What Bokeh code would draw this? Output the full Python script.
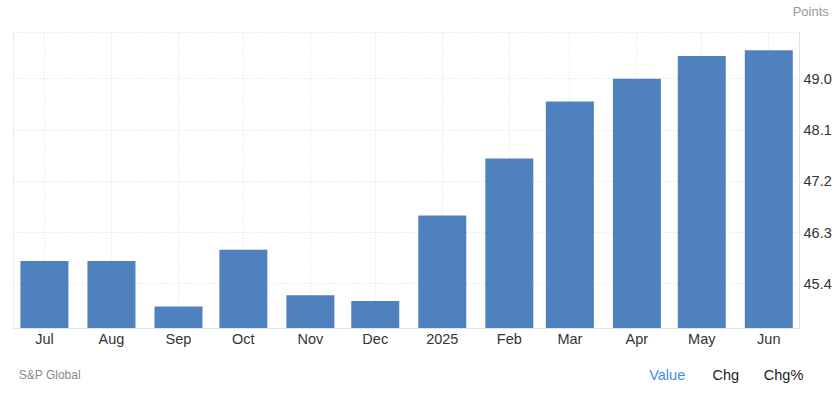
import pandas as pd
from bokeh.plotting import figure
from bokeh.layouts import column, row
from bokeh.models import (Range1d, MonthsTicker, FixedTicker, PrintfTickFormatter,
                          CustomJSTickFormatter, Span, ColumnDataSource)
from bokeh.core.properties import value
from bokeh.embed import file_html
from bokeh.resources import INLINE

# ---- data ----
months = ["2024-07-01", "2024-08-01", "2024-09-01", "2024-10-01", "2024-11-01", "2024-12-01",
          "2025-01-01", "2025-02-01", "2025-03-01", "2025-04-01", "2025-05-01", "2025-06-01"]
values = [45.8, 45.8, 45.0, 46.0, 45.2, 45.1, 46.6, 47.6, 48.6, 49.0, 49.4, 49.5]
y_ticks = [45.4, 46.3, 47.2, 48.1, 49.0]
month_names = ["Jan", "Feb", "Mar", "Apr", "May", "Jun", "Jul", "Aug", "Sep", "Oct", "Nov", "Dec"]
unit_label = "Points"
source_label = "S&P Global"
tab_labels = ["Value", "Chg", "Chg%"]

DAY = 86400000.0
dates = pd.to_datetime(months)
ms = [d.value / 1e6 for d in dates]
src = ColumnDataSource(dict(x=ms, top=values))

FONT = "Liberation Sans"
GRID = "#dcdcdc"
AXIS = "#e3e3e3"

W = 840
TOP_H = 26
MAIN_H = 350 - TOP_H
BOT_H = 393 - 350
FRAME_L, FRAME_R = 13, 799
FRAME_T, FRAME_B = 32, 328


def strip_fig(h, y0, y1):
    s = figure(width=W, height=h, x_range=Range1d(0, W), y_range=Range1d(y1, y0),
               toolbar_location=None, output_backend="svg",
               min_border=0, min_border_left=0, min_border_right=0,
               min_border_top=0, min_border_bottom=0)
    s.axis.visible = False
    s.grid.visible = False
    s.outline_line_color = None
    s.background_fill_color = "white"
    s.border_fill_color = "white"
    return s


x_start = ms[0] - 14.3 * DAY
x_end = ms[-1] + 14.2 * DAY

p = figure(width=W, height=MAIN_H, x_axis_type="datetime", y_axis_location="right",
           x_range=Range1d(x_start, x_end), y_range=Range1d(44.615, 49.813),
           toolbar_location=None, output_backend="svg",
           min_border_left=FRAME_L, min_border_right=W - FRAME_R,
           min_border_top=FRAME_T - TOP_H, min_border_bottom=350 - FRAME_B)

p.background_fill_color = "white"
p.border_fill_color = "white"
p.outline_line_color = GRID
p.outline_line_dash = "1 2"

p.vbar(x="x", top="top", bottom=40, width=22.2 * DAY, source=src,
       fill_color="#4e81bd", line_color=None)

# x axis
xa = p.xaxis[0]
xa.ticker = MonthsTicker(months=list(range(12)))
xa.formatter = CustomJSTickFormatter(args=dict(names=month_names), code="""
const d = new Date(tick);
const m = d.getUTCMonth();
return m === 0 ? String(d.getUTCFullYear()) : names[m];
""")
xa.axis_line_color = AXIS
xa.major_tick_line_color = None
xa.minor_tick_line_color = None
xa.major_tick_out = 0
xa.major_tick_in = 0
xa.minor_tick_out = 0
xa.major_label_standoff = 2
xa.major_label_text_font = FONT
xa.major_label_text_font_size = "14.5px"
xa.major_label_text_color = "#333333"

# y axis
ya = p.yaxis[0]
ya.ticker = FixedTicker(ticks=y_ticks)
ya.formatter = PrintfTickFormatter(format="%.1f")
ya.axis_line_color = AXIS
ya.major_tick_line_color = None
ya.minor_tick_line_color = None
ya.major_tick_out = 0
ya.major_tick_in = 0
ya.minor_tick_out = 0
ya.major_label_standoff = 4
ya.major_label_text_font = FONT
ya.major_label_text_font_size = "14.5px"
ya.major_label_text_color = "#333333"

p.xgrid.grid_line_color = GRID
p.xgrid.grid_line_dash = "1 2"
p.ygrid.grid_line_color = GRID
p.ygrid.grid_line_dash = "1 2"

p.add_layout(Span(location=x_start, dimension="height", line_color=AXIS, line_width=1))

# ---- top strip: unit label (page pixel coordinates) ----
top = strip_fig(TOP_H, 0, TOP_H)
top.text(x=[828.3], y=[11.3], text=[unit_label], text_align="right",
         text_baseline="alphabetic", text_font=value(FONT), text_font_size="13px",
         text_color="#999999")

# ---- bottom strip: source and tab labels (page pixel coordinates) ----
bot = strip_fig(BOT_H, 350, 393)
base_y = 374
bot.text(x=[18.3], y=[base_y], text=[source_label], text_align="left",
         text_baseline="alphabetic", text_font=value(FONT), text_font_size="12px",
         text_color="#8a8a8a")
tab_x = [648.7, 712.0, 763.3]
tab_colors = ["#3d8fe3", "#222222", "#222222"]
bot.text(x=tab_x, y=[base_y] * 3, text=tab_labels, text_align="left",
         text_baseline="alphabetic", text_font=value(FONT), text_font_size="14.5px",
         text_color=tab_colors)

layout = column(row(top, spacing=0), p, row(bot, spacing=0), spacing=0)
open("out.html", "w").write(file_html(layout, INLINE))
